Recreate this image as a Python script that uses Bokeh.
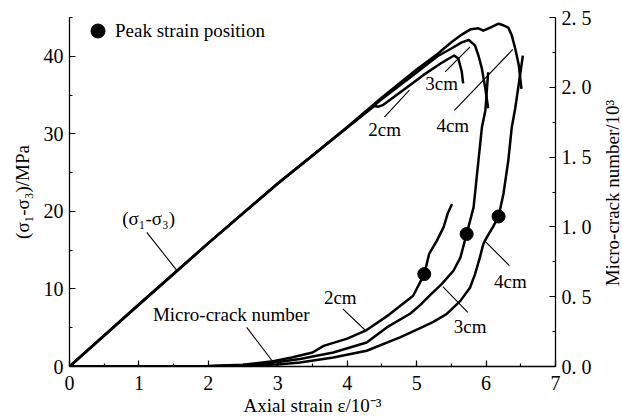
import math
from bokeh.plotting import figure
from bokeh.layouts import row
from bokeh.models import (Range1d, LinearAxis, SingleIntervalTicker, Label,
                          Legend, LegendItem, ColumnDataSource)
from bokeh.embed import file_html
from bokeh.resources import INLINE

# ---------------- data ----------------
# deviatoric stress curves (MPa) vs axial strain (1e-3)
strain_2cm = [0, 1, 2, 3, 3.5, 4.0, 4.39, 4.45, 4.51, 4.8, 5.1, 5.35, 5.54, 5.6, 5.65, 5.67]
stress_2cm = [0, 8.0, 15.9, 23.6, 27.2, 30.8, 33.6, 33.5, 33.7, 35.6, 37.6, 39.1, 40.1, 39.7, 38.0, 36.5]

strain_3cm = [0, 1, 2, 3, 3.5, 4, 4.5, 5, 5.3, 5.5, 5.65, 5.75, 5.84, 5.89, 5.94, 5.99, 6.03]
stress_3cm = [0, 8.0, 15.9, 23.6, 27.2, 30.8, 34.5, 37.9, 40.0, 41.0, 41.8, 42.1, 41.4, 40.1, 38.4, 35.8, 33.3]

strain_4cm = [0, 1, 2, 3, 3.5, 4, 4.5, 5, 5.3, 5.5, 5.65, 5.78, 5.89, 5.96, 6.06, 6.18,
              6.25, 6.32, 6.37, 6.42, 6.47, 6.51]
stress_4cm = [0, 8.0, 15.9, 23.6, 27.2, 30.9, 34.7, 38.3, 40.3, 41.8, 42.8, 43.5, 43.6, 43.3, 43.7, 44.2,
              44.0, 43.7, 42.7, 41.0, 38.9, 35.8]

# micro-crack number (1e3) vs axial strain (1e-3)
crack_x_2cm = [0, 1, 2, 2.5, 2.9, 3.2, 3.5, 3.66, 4.0, 4.28, 4.6, 4.95, 5.11, 5.18, 5.29, 5.39, 5.45, 5.51]
crack_n_2cm = [0, 0, 0.003, 0.012, 0.035, 0.065, 0.1, 0.148, 0.2, 0.261, 0.37, 0.507, 0.662, 0.806,
               0.9, 1.0, 1.1, 1.164]

crack_x_3cm = [0, 1, 2, 2.5, 2.9, 3.32, 3.8, 4.28, 4.57, 4.91, 5.05, 5.19, 5.36, 5.53, 5.63, 5.72,
               5.82, 5.89, 5.94, 5.99, 6.03]
crack_n_3cm = [0, 0, 0.002, 0.008, 0.025, 0.053, 0.1, 0.172, 0.28, 0.38, 0.44, 0.51, 0.59, 0.686,
               0.78, 0.949, 1.14, 1.475, 1.713, 1.833, 2.108]

crack_x_4cm = [0, 1, 2, 2.5, 3.0, 3.32, 3.8, 4.28, 4.76, 5.05, 5.24, 5.43, 5.63, 5.77, 5.84, 5.91,
               5.96, 6.01, 6.1, 6.18, 6.25, 6.32, 6.37, 6.42, 6.47, 6.53]
crack_n_4cm = [0, 0, 0.001, 0.005, 0.015, 0.029, 0.065, 0.113, 0.208, 0.275, 0.32, 0.375, 0.47,
               0.566, 0.66, 0.78, 0.877, 0.925, 1.0, 1.075, 1.236, 1.475, 1.713, 1.85, 2.02, 2.227]

# peak strain positions (on micro-crack curves)
peak_x = [5.11, 5.72, 6.18]
peak_n = [0.662, 0.949, 1.075]

right_tick_labels = {0: "0. 0", 0.5: "0. 5", 1: "1. 0", 1.5: "1. 5", 2: "2. 0", 2.5: "2. 5"}

# annotation texts and positions (data coords: strain, MPa)
ann_text = ["(σ₁-σ₃)", "Micro-crack number", "2cm", "3cm", "4cm", "2cm", "3cm", "4cm"]
ann_x = [1.14, 2.33, 3.90, 5.77, 6.35, 4.54, 5.36, 5.52]
ann_y = [19.1, 6.7, 8.9, 5.2, 10.9, 30.6, 36.5, 31.1]
lead_x0 = [1.113, 2.553, 3.937, 5.377, 5.976, 4.536, 5.41, 5.544]
lead_y0 = [17.3, 5.04, 7.42, 10.3, 16.24, 32.17, 37.98, 33.04]
lead_x1 = [1.545, 2.937, 4.272, 5.737, 6.336, 4.896, 5.77, 6.385]
lead_y1 = [12.4, 0.52, 4.58, 6.98, 13.01, 35.62, 41.2, 40.88]

# ---------------- figure ----------------
FONT = "Liberation Serif"
FS = "19px"

p = figure(width=600, height=420, output_backend="svg", toolbar_location=None,
           x_range=Range1d(0, 7), y_range=Range1d(0, 45),
           min_border_left=69, min_border_right=45, min_border_top=17, min_border_bottom=54)
p.extra_y_ranges = {"crack": Range1d(0, 2.5)}
p.outline_line_color = None
p.xgrid.visible = False
p.ygrid.visible = False
p.background_fill_color = "white"
p.border_fill_color = "white"

raxis = LinearAxis(y_range_name="crack")
p.add_layout(raxis, "right")

p.xaxis.ticker = SingleIntervalTicker(interval=1, num_minor_ticks=2)
p.yaxis[0].ticker = SingleIntervalTicker(interval=10, num_minor_ticks=2)
raxis.ticker = SingleIntervalTicker(interval=0.5, num_minor_ticks=2)
raxis.major_label_overrides = right_tick_labels

for ax in [p.xaxis[0], p.yaxis[0], raxis]:
    ax.axis_line_color = "black"
    ax.axis_line_width = 1.3
    ax.major_tick_line_color = "black"
    ax.minor_tick_line_color = "black"
    ax.major_tick_line_width = 1.2
    ax.minor_tick_line_width = 1.2
    ax.major_tick_in = 6
    ax.major_tick_out = 0
    ax.minor_tick_in = 3
    ax.minor_tick_out = 0
    ax.major_label_text_font = FONT
    ax.major_label_text_font_size = "20px"
    ax.major_label_text_color = "black"
    ax.axis_label_text_font = FONT
    ax.axis_label_text_font_size = FS
    ax.axis_label_text_font_style = "normal"
    ax.axis_label_text_color = "black"
    ax.major_label_standoff = 6

p.xaxis.axis_label = "Axial strain ε/10⁻³"
p.xaxis.major_label_standoff = 9
p.xaxis.axis_label_standoff = 2
p.yaxis[0].axis_label = "(σ₁-σ₃)/MPa"
p.yaxis[0].axis_label_standoff = 8

# stress curves
for xs, ys in [(strain_2cm, stress_2cm), (strain_3cm, stress_3cm), (strain_4cm, stress_4cm)]:
    p.line(xs, ys, line_color="black", line_width=2.5, line_join="round")

# micro-crack curves (right axis)
for xs, ys in [(crack_x_2cm, crack_n_2cm), (crack_x_3cm, crack_n_3cm), (crack_x_4cm, crack_n_4cm)]:
    p.line(xs, ys, line_color="black", line_width=2.5, line_join="round", y_range_name="crack")

dots = p.scatter(peak_x, peak_n, size=13, fill_color="black", line_color="black",
                 y_range_name="crack")

# leader lines
p.segment(x0=lead_x0, y0=lead_y0, x1=lead_x1, y1=lead_y1, line_color="black", line_width=1.1)

# annotation texts
src = ColumnDataSource(dict(x=ann_x, y=ann_y, t=ann_text))
p.text(x="x", y="y", text="t", source=src, text_align="center", text_baseline="middle",
       text_font={"value": FONT}, text_font_size={"value": FS}, text_color="black")

legend = Legend(items=[LegendItem(label="Peak strain position", renderers=[dots])],
                location=(11, 318), glyph_width=35, glyph_height=35, label_standoff=0,
                padding=0, margin=0, border_line_color=None, background_fill_alpha=0,
                label_text_font=FONT, label_text_font_size=FS, label_text_color="black")
p.add_layout(legend)

# narrow strip on the right holding the right-axis title (reads bottom-to-top)
p2 = figure(width=22, height=420, output_backend="svg", toolbar_location=None,
            x_range=Range1d(0, 1), y_range=Range1d(0, 1), min_border=0)
p2.axis.visible = False
p2.xgrid.visible = False
p2.ygrid.visible = False
p2.outline_line_color = None
p2.background_fill_color = "white"
p2.border_fill_color = "white"
p2.add_layout(Label(x=0.55, y=0.497, angle=math.pi / 2,
                    text="Micro-crack number/10³", text_align="center",
                    text_baseline="middle", text_font=FONT, text_font_size=FS,
                    text_color="black"))

layout = row(p, p2, spacing=0)
open("out.html", "w").write(file_html(layout, INLINE))
